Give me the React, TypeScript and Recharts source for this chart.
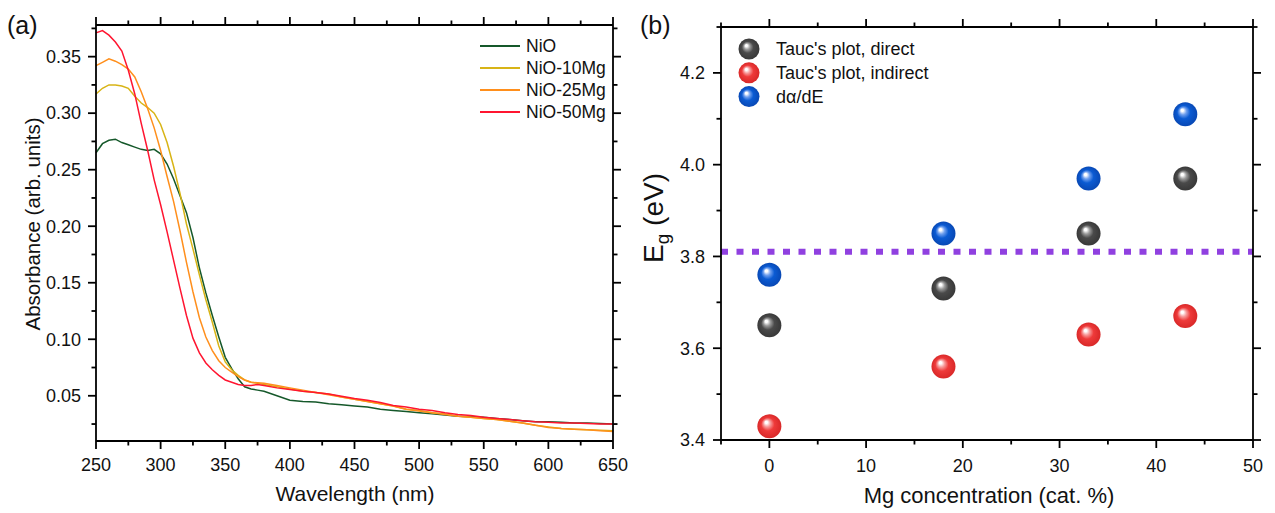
import React from "react";
import {
  LineChart,
  Line,
  ScatterChart,
  Scatter,
  XAxis,
  YAxis,
  Legend,
  ReferenceLine,
} from "recharts";

const FONT = "'Liberation Sans', Arial, Helvetica, sans-serif";
const INK = "#111";

// ---- panel (a): absorbance spectra ----
const wavelength = [
  250, 255, 260, 265, 270, 275, 280, 285, 290, 295, 300, 305, 310, 315, 320, 325, 330, 335, 340, 345,
  350, 355, 360, 365, 370, 375, 380, 390, 400, 410, 420, 430, 440, 450, 460, 470, 480, 490, 500, 510,
  520, 530, 540, 550, 560, 570, 580, 590, 600, 610, 620, 630, 640, 650,
];

const absNiO = [
  0.265, 0.273, 0.276, 0.277, 0.274, 0.272, 0.27, 0.268, 0.267, 0.268, 0.264, 0.255, 0.242, 0.227, 0.212, 0.19, 0.163, 0.141, 0.121, 0.102,
  0.084, 0.074, 0.065, 0.058, 0.056, 0.055, 0.054, 0.05, 0.046, 0.045, 0.0445, 0.043, 0.042, 0.041, 0.04, 0.038, 0.037, 0.036, 0.035, 0.034,
  0.033, 0.032, 0.0315, 0.031, 0.03, 0.029, 0.028, 0.027, 0.027, 0.0265, 0.026, 0.026, 0.0255, 0.025,
];

const absNiO10Mg = [
  0.317, 0.322, 0.325, 0.325, 0.324, 0.322, 0.315, 0.309, 0.305, 0.3, 0.29, 0.274, 0.253, 0.229, 0.202, 0.18, 0.157, 0.135, 0.115, 0.094,
  0.08, 0.073, 0.068, 0.064, 0.062, 0.061, 0.06, 0.058, 0.056, 0.054, 0.053, 0.0515, 0.049, 0.047, 0.045, 0.043, 0.041, 0.038, 0.037, 0.035,
  0.034, 0.032, 0.031, 0.03, 0.029, 0.0275, 0.026, 0.024, 0.0225, 0.021, 0.0205, 0.02, 0.0195, 0.019,
];

const absNiO25Mg = [
  0.342, 0.345, 0.348, 0.346, 0.343, 0.339, 0.332, 0.319, 0.304, 0.287, 0.267, 0.244, 0.222, 0.196, 0.168, 0.142, 0.119, 0.102, 0.09, 0.081,
  0.075, 0.071, 0.067, 0.064, 0.062, 0.0615, 0.061, 0.059, 0.057, 0.055, 0.053, 0.051, 0.049, 0.047, 0.045, 0.043, 0.041, 0.038, 0.0365, 0.035,
  0.0335, 0.032, 0.031, 0.03, 0.029, 0.0275, 0.026, 0.024, 0.022, 0.021, 0.0205, 0.02, 0.019, 0.0185,
];

const absNiO50Mg = [
  0.371, 0.373, 0.369, 0.363, 0.355, 0.338, 0.317, 0.291, 0.267, 0.241, 0.219, 0.195, 0.17, 0.145, 0.121, 0.101, 0.088, 0.079, 0.073, 0.068,
  0.064, 0.062, 0.06, 0.059, 0.059, 0.06, 0.059, 0.057, 0.0555, 0.054, 0.053, 0.0515, 0.0495, 0.0475, 0.046, 0.044, 0.0415, 0.04, 0.038, 0.037,
  0.035, 0.0335, 0.0325, 0.031, 0.03, 0.029, 0.028, 0.027, 0.0265, 0.026, 0.026, 0.0255, 0.025, 0.025,
];

const absSeries = [
  { key: "nio", name: "NiO", color: "#15582a", values: absNiO },
  { key: "mg10", name: "NiO-10Mg", color: "#d8b416", values: absNiO10Mg },
  { key: "mg25", name: "NiO-25Mg", color: "#ff8f1c", values: absNiO25Mg },
  { key: "mg50", name: "NiO-50Mg", color: "#ff1530", values: absNiO50Mg },
];

const absData = wavelength.map((wl, i) => {
  const row: Record<string, number> = { wl };
  absSeries.forEach((s) => (row[s.key] = s.values[i]));
  return row;
});

const wlDomain = [250, 650];
const wlMajor = [250, 300, 350, 400, 450, 500, 550, 600, 650];
const wlMinor = [275, 325, 375, 425, 475, 525, 575, 625];
const absDomain = [0.01, 0.378];
const absMajor = [0.05, 0.1, 0.15, 0.2, 0.25, 0.3, 0.35];
const absMinor = [0.025, 0.075, 0.125, 0.175, 0.225, 0.275, 0.325, 0.375];

// ---- panel (b): band gaps ----
const mgConc = [0, 18, 33, 43];
const egDirect = [3.65, 3.73, 3.85, 3.97];
const egIndirect = [3.43, 3.56, 3.63, 3.67];
const egDerivative = [3.76, 3.85, 3.97, 4.11];
const egLine = 3.81;

const gapSeries = [
  { name: "Tauc's plot, direct", grad: "sph-grey", values: egDirect },
  { name: "Tauc's plot, indirect", grad: "sph-red", values: egIndirect },
  { name: "d\u03b1/dE", grad: "sph-blue", values: egDerivative },
];

const mgDomain = [-5, 50];
const mgMajor = [0, 10, 20, 30, 40, 50];
const mgMinor = [-5, 5, 15, 25, 35, 45];
const egDomain = [3.4, 4.3];
const egMajor = [3.4, 3.6, 3.8, 4.0, 4.2];
const egMinor = [3.5, 3.7, 3.9, 4.1, 4.3];

const sphereColors: Record<string, string[]> = {
  "sph-grey": ["#9a9a9a", "#4a4a4a", "#383838"],
  "sph-red": ["#f79a9a", "#ee3a3a", "#d92828"],
  "sph-blue": ["#6f9fee", "#0b5bd3", "#0848b4"],
};

// frame geometry (page px)
const A = { w: 640, h: 513, left: 96, right: 613, top: 25, bottom: 441 };
const RX = 620; // page x where the right chart starts
const B = { w: 1275 - RX, h: 513, left: 721, right: 1253, top: 27, bottom: 440 };

const MAJOR_LEN = 8;
const MINOR_LEN = 4.5;
const FRAME = "#000";

const axisLine = { stroke: FRAME, strokeWidth: 1.8 };

function TickLabel(props: any) {
  const { x, y, payload, anchor, fmt } = props;
  return (
    <text x={x} y={y} dy="0.35em" textAnchor={anchor} fontSize={18} fontFamily={FONT} fill={INK}>
      {fmt(payload.value)}
    </text>
  );
}

// outward tick marks on all four sides of a panel frame
function FrameTicks({
  g,
  xDom,
  yDom,
  xMajor,
  xMinor,
  yMajor,
  yMinor,
}: {
  g: { left: number; right: number; top: number; bottom: number };
  xDom: number[];
  yDom: number[];
  xMajor: number[];
  xMinor: number[];
  yMajor: number[];
  yMinor: number[];
}) {
  const sx = (v: number) => g.left + ((v - xDom[0]) / (xDom[1] - xDom[0])) * (g.right - g.left);
  const sy = (v: number) => g.bottom - ((v - yDom[0]) / (yDom[1] - yDom[0])) * (g.bottom - g.top);
  const marks: JSX.Element[] = [];
  const xs = [...xMajor.map((v) => [v, MAJOR_LEN]), ...xMinor.map((v) => [v, MINOR_LEN])];
  const ys = [...yMajor.map((v) => [v, MAJOR_LEN]), ...yMinor.map((v) => [v, MINOR_LEN])];
  xs.forEach(([v, len], i) => {
    const x = sx(v);
    marks.push(<line key={`xb${i}`} x1={x} x2={x} y1={g.bottom} y2={g.bottom + len} />);
    marks.push(<line key={`xt${i}`} x1={x} x2={x} y1={g.top} y2={g.top - len} />);
  });
  ys.forEach(([v, len], i) => {
    const y = sy(v);
    marks.push(<line key={`yl${i}`} x1={g.left} x2={g.left - len} y1={y} y2={y} />);
    marks.push(<line key={`yr${i}`} x1={g.right} x2={g.right + len} y1={y} y2={y} />);
  });
  return (
    <g stroke={FRAME} strokeWidth={1.8}>
      {marks}
    </g>
  );
}

function AbsLegend() {
  return (
    <svg width={150} height={90}>
      {absSeries.map((s, i) => (
        <g key={s.key}>
          <line x1={0} x2={40} y1={10 + i * 22} y2={10 + i * 22} stroke={s.color} strokeWidth={2} />
          <text x={46} y={10 + i * 22} dy="0.35em" fontSize={17.5} fontFamily={FONT} fill={INK}>
            {s.name}
          </text>
        </g>
      ))}
    </svg>
  );
}

function GapLegend() {
  return (
    <svg width={240} height={80}>
      {gapSeries.map((s, i) => (
        <g key={s.grad}>
          <circle cx={12} cy={12 + i * 23.8} r={10.5} fill={`url(#${s.grad})`} />
          <text x={39} y={12 + i * 23.8} dy="0.35em" fontSize={18} fontFamily={FONT} fill={INK}>
            {s.name}
          </text>
        </g>
      ))}
    </svg>
  );
}

function Sphere(props: any) {
  const { cx, cy, grad } = props;
  if (cx == null || cy == null) return null;
  return <circle cx={cx} cy={cy} r={12} fill={`url(#${grad})`} />;
}

export default function App() {
  return (
    <div style={{ position: "absolute", left: 0, top: 0, width: 1275, height: 513, background: "#fff" }}>
      <svg width={0} height={0} style={{ position: "absolute" }}>
        <defs>
          {Object.entries(sphereColors).map(([id, [light, base, dark]]) => (
            <radialGradient key={id} id={id} cx="0.5" cy="0.5" r="0.5" fx="0.36" fy="0.32">
              <stop offset="0" stopColor="#ffffff" />
              <stop offset="0.1" stopColor="#ffffff" />
              <stop offset="0.3" stopColor={light} />
              <stop offset="0.55" stopColor={base} />
              <stop offset="1" stopColor={dark} />
            </radialGradient>
          ))}
        </defs>
      </svg>

      <div style={{ position: "absolute", left: 0, top: 0 }}>
        <LineChart width={A.w} height={A.h} data={absData} margin={{ top: 0, right: 0, bottom: 0, left: 0 }}>
          <XAxis
            xAxisId="b"
            dataKey="wl"
            type="number"
            domain={wlDomain}
            ticks={wlMajor}
            interval={0}
            height={A.h - A.bottom}
            tickSize={0}
            tickMargin={24}
            tickLine={false}
            axisLine={axisLine}
            tick={(p: any) => <TickLabel {...p} anchor="middle" fmt={(v: number) => String(v)} />}
            label={() => (
              <text x={355} y={501} textAnchor="middle" fontSize={21} fontFamily={FONT} fill={INK}>
                Wavelength (nm)
              </text>
            )}
          />
          <XAxis
            xAxisId="t"
            orientation="top"
            type="number"
            domain={wlDomain}
            ticks={wlMajor}
            height={A.top}
            tickLine={false}
            axisLine={axisLine}
            tick={false}
            label={() => (
              <text x={7} y={34} fontSize={25} fontFamily={FONT} fill={INK}>
                (a)
              </text>
            )}
          />
          <YAxis
            yAxisId="l"
            type="number"
            domain={absDomain}
            ticks={absMajor}
            interval={0}
            width={A.left}
            tickSize={0}
            tickMargin={15}
            tickLine={false}
            axisLine={axisLine}
            tick={(p: any) => <TickLabel {...p} anchor="end" fmt={(v: number) => v.toFixed(2)} />}
            label={() => (
              <text
                transform="translate(40, 224) rotate(-90)"
                textAnchor="middle"
                fontSize={20.5}
                fontFamily={FONT}
                fill={INK}
              >
                Absorbance (arb. units)
              </text>
            )}
          />
          <YAxis
            yAxisId="r"
            orientation="right"
            type="number"
            domain={absDomain}
            ticks={absMajor}
            width={A.w - A.right}
            tickLine={false}
            axisLine={axisLine}
            tick={false}
          />
          {absSeries.map((s) => (
            <Line
              key={s.key}
              xAxisId="b"
              yAxisId="l"
              type="linear"
              dataKey={s.key}
              name={s.name}
              stroke={s.color}
              strokeWidth={1.5}
              dot={false}
              activeDot={false}
              isAnimationActive={false}
            />
          ))}
          <Legend
            layout="horizontal"
            verticalAlign="middle"
            align="center"
            content={() => <AbsLegend />}
            wrapperStyle={{ left: 480, top: 36, width: 150, height: 90 }}
          />
        </LineChart>
      </div>

      <div style={{ position: "absolute", left: RX, top: 0 }}>
        <ScatterChart width={B.w} height={B.h} margin={{ top: 0, right: 0, bottom: 0, left: 0 }}>
          <XAxis
            xAxisId="b"
            dataKey="mg"
            type="number"
            domain={mgDomain}
            ticks={mgMajor}
            interval={0}
            height={B.h - B.bottom}
            tickSize={0}
            tickMargin={26}
            tickLine={false}
            axisLine={axisLine}
            tick={(p: any) => <TickLabel {...p} anchor="middle" fmt={(v: number) => String(v)} />}
            label={() => (
              <text x={989 - RX} y={503} textAnchor="middle" fontSize={22} fontFamily={FONT} fill={INK}>
                Mg concentration (cat. %)
              </text>
            )}
          />
          <XAxis
            xAxisId="t"
            orientation="top"
            type="number"
            domain={mgDomain}
            ticks={mgMajor}
            height={B.top}
            tickLine={false}
            axisLine={axisLine}
            tick={false}
            label={() => (
              <text x={640 - RX} y={34} fontSize={25} fontFamily={FONT} fill={INK}>
                (b)
              </text>
            )}
          />
          <YAxis
            yAxisId="l"
            dataKey="eg"
            type="number"
            domain={egDomain}
            ticks={egMajor}
            interval={0}
            width={B.left - RX}
            tickSize={0}
            tickMargin={16}
            tickLine={false}
            axisLine={axisLine}
            tick={(p: any) => <TickLabel {...p} anchor="end" fmt={(v: number) => v.toFixed(1)} />}
            label={() => (
              <text
                transform={`translate(${663 - RX}, 218) rotate(-90)`}
                textAnchor="middle"
                fontSize={28}
                fontFamily={FONT}
                fill={INK}
              >
                <tspan>E</tspan>
                <tspan dy={6} fontSize={19}>
                  g
                </tspan>
                <tspan dy={-6}> (eV)</tspan>
              </text>
            )}
          />
          <YAxis
            yAxisId="r"
            orientation="right"
            type="number"
            domain={egDomain}
            ticks={egMajor}
            width={1275 - B.right}
            tickLine={false}
            axisLine={axisLine}
            tick={false}
          />
          <ReferenceLine
            xAxisId="b"
            yAxisId="l"
            y={egLine}
            stroke="#9040e0"
            strokeWidth={6}
            strokeDasharray="7 8.5"
          />
          {gapSeries.map((s) => (
            <Scatter
              key={s.grad}
              xAxisId="b"
              yAxisId="l"
              name={s.name}
              data={mgConc.map((mg, i) => ({ mg, eg: s.values[i] }))}
              shape={(p: any) => <Sphere {...p} grad={s.grad} />}
              isAnimationActive={false}
            />
          ))}
          <Legend
            layout="horizontal"
            verticalAlign="middle"
            align="center"
            content={() => <GapLegend />}
            wrapperStyle={{ left: 737 - RX, top: 37, width: 240, height: 80 }}
          />
        </ScatterChart>
      </div>

      <svg
        width={1275}
        height={513}
        style={{ position: "absolute", left: 0, top: 0, pointerEvents: "none" }}
      >
        <FrameTicks g={A} xDom={wlDomain} yDom={absDomain} xMajor={wlMajor} xMinor={wlMinor} yMajor={absMajor} yMinor={absMinor} />
        <FrameTicks g={B} xDom={mgDomain} yDom={egDomain} xMajor={mgMajor} xMinor={mgMinor} yMajor={egMajor} yMinor={egMinor} />
      </svg>
    </div>
  );
}
